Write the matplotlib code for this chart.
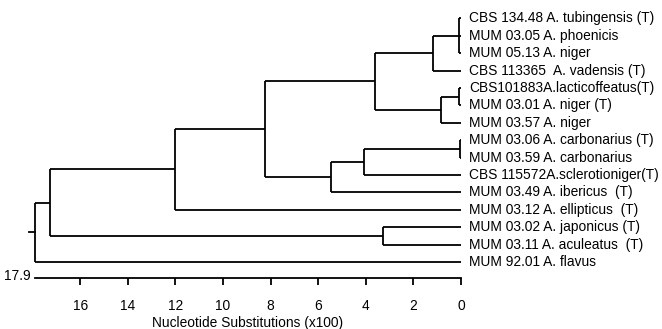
import matplotlib
matplotlib.use("Agg")
import matplotlib.pyplot as plt

plt.rcParams['font.family'] = ['Liberation Sans', 'DejaVu Sans']

# ----- DATA -----
labels = [
    "CBS 134.48 A. tubingensis (T)",
    "MUM 03.05 A. phoenicis",
    "MUM 05.13 A. niger",
    "CBS 113365  A. vadensis (T)",
    "CBS101883A.lacticoffeatus(T)",
    "MUM 03.01 A. niger (T)",
    "MUM 03.57 A. niger",
    "MUM 03.06 A. carbonarius (T)",
    "MUM 03.59 A. carbonarius",
    "CBS 115572A.sclerotioniger(T)",
    "MUM 03.49 A. ibericus  (T)",
    "MUM 03.12 A. ellipticus  (T)",
    "MUM 03.02 A. japonicus (T)",
    "MUM 03.11 A. aculeatus  (T)",
    "MUM 92.01 A. flavus",
]

# internal nodes: name, height (x100 substitutions), children (leaf index or node name)
node_names = ["tub", "vad", "lac", "lac57", "niger_grp", "carb", "scl", "ib",
              "n82", "n12", "jap", "n173", "root"]
node_heights = [0.1, 1.16, 0.1, 0.84, 3.6, 0.05, 4.06, 5.46,
                8.24, 12.0, 3.29, 17.27, 17.9]
node_children = [
    [0, 1, 2],
    ["tub", 3],
    [4, 5],
    ["lac", 6],
    ["vad", "lac57"],
    [7, 8],
    ["carb", 9],
    ["scl", 10],
    ["niger_grp", "ib"],
    ["n82", 11],
    [12, 13],
    ["n12", "jap"],
    ["n173", 14],
]

xticks = [16, 14, 12, 10, 8, 6, 4, 2, 0]
total_len = 17.9

# ----- FIGURE -----
W, H = 662, 329
fig = plt.figure(figsize=(W / 100, H / 100), dpi=100)

px_unit = 23.8
x0_px = 461
xmax = 18.2
left_px = x0_px - xmax * px_unit
axis_px = 278
ax = fig.add_axes([left_px / W, 1 - axis_px / H, xmax * px_unit / W, axis_px / H])

leaf_top = 18.3
leaf_step = 17.4
ybot = (axis_px - leaf_top) / leaf_step
ytop = -leaf_top / leaf_step
ax.set_xlim(xmax, 0)
ax.set_ylim(ybot, ytop)

lw = 1.3
col = "black"
fs = 9.9

pos = {}
hgt = {}
for i in range(len(labels)):
    pos[i] = float(i)
    hgt[i] = 0.0

for name, h, kids in zip(node_names, node_heights, node_children):
    ys = [pos[k] for k in kids]
    y = (min(ys) + max(ys)) / 2
    pos[name] = y
    hgt[name] = h
    ax.plot([h, h], [min(ys), max(ys)], color=col, lw=lw, solid_capstyle="butt")
    for k in kids:
        ax.plot([h, hgt[k]], [pos[k], pos[k]], color=col, lw=lw, solid_capstyle="butt")

# root stub
ax.plot([total_len, total_len + 0.25], [pos["root"], pos["root"]], color=col, lw=lw)

for i, lab in enumerate(labels):
    ax.text(-0.33, i, lab, ha="left", va="center", fontsize=fs, clip_on=False)

for s in ["top", "right", "left"]:
    ax.spines[s].set_visible(False)
ax.spines["bottom"].set_bounds(0, total_len)
ax.spines["bottom"].set_linewidth(lw)
ax.set_yticks([])
ax.set_xticks(xticks)
ax.set_xticklabels([str(t) for t in xticks], fontsize=fs)
ax.tick_params(axis="x", direction="out", length=5, width=lw, pad=10)
ax.set_xlabel("Nucleotide Substitutions (x100)", fontsize=fs)
ax.xaxis.set_label_coords((x0_px - total_len * px_unit / 2 - left_px) / (xmax * px_unit), -0.135)

ax.text(total_len + 0.2, ybot - 0.1, "17.9", ha="right", va="center", fontsize=fs, clip_on=False)

fig.savefig("out.png", dpi=100)
